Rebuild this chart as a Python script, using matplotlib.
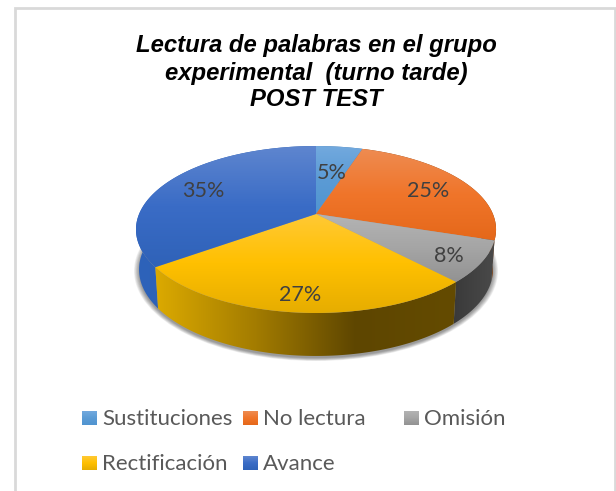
"""Lectura de palabras - perspective pie, post test"""
import numpy as np
from matplotlib import pyplot as plt
from matplotlib.colors import LinearSegmentedColormap
from matplotlib.patches import Ellipse, Polygon

categories = ["Sustituciones", "No lectura", "Omisión", "Rectificación", "Avance"]
values = [5, 25, 8, 27, 35]
title_lines = ["Lectura de palabras en el grupo", "experimental  (turno tarde)", "POST TEST"]

# light to dark, top of each slice to bottom
top_colors = [
    ["#72a9de", "#5b9bd5", "#5094d0"],
    ["#ee8c52", "#f0752a", "#e5681a"],
    ["#b4b4b4", "#a5a5a5", "#929292"],
    ["#ffc935", "#ffc000", "#e6ad00"],
    ["#5f86cf", "#3a6cc6", "#2f62b8"],
]
# left to right along the wall
wall_colors = [
    ["#4a7fb0", "#4a7fb0"],
    ["#8a4512", "#7a3d10"],
    ["#3a3a3a", "#4a4a4a"],
    ["#dcaa00", "#a37c00", "#5e4600", "#644b00"],
    ["#2e63ba", "#2a5cac"],
]

# pie geometry in image pixels
APEX_X, APEX_Y = 316, 214
SCALE_X, SCALE_Y, TILT = 176.9, 80.6, 0.1857
ELLIPSE_Y = 230
BOTTOM_Y, SHRINK_X, STRETCH_Y = 270, 0.983, 1.036

fig = plt.figure(figsize=(6.16, 4.91), dpi=100)
ax = fig.add_axes([0, 0, 1, 1])


def project(angle, radius=1.0):
    """Map a clockwise-from-top angle on the disc to image pixels"""
    a = np.radians(angle)
    x, y = radius * np.sin(a), radius * np.cos(a)
    w = 1 + TILT * y
    return APEX_X + SCALE_X * x / w, APEX_Y - SCALE_Y * y / w


def drop(x, y):
    """Move a point of the top rim to the bottom rim"""
    return APEX_X + (x - APEX_X) * SHRINK_X, BOTTOM_Y + (y - ELLIPSE_Y) * STRETCH_Y


def gradient_fill(points, colors, horizontal=False, zorder=2):
    xs, ys = points[:, 0], points[:, 1]
    cmap = LinearSegmentedColormap.from_list("g", colors)
    ramp = np.linspace(0, 1, 256)
    ramp = ramp[None, :] if horizontal else ramp[:, None]
    im = ax.imshow(ramp, cmap=cmap, aspect="auto", zorder=zorder, interpolation="bilinear",
                   extent=(xs.min(), xs.max(), ys.max(), ys.min()))
    patch = Polygon(points, closed=True, transform=ax.transData, fc="none", ec="none")
    ax.add_patch(patch)
    im.set_clip_path(patch)


# soft shadow under the pie
for grow in np.linspace(0, 5, 8):
    ax.add_patch(Ellipse((APEX_X, BOTTOM_Y + 1), 2 * (177 + grow), 2 * (87 + grow * 0.6),
                         fc="black", ec="none", alpha=0.06, zorder=1))

edges = np.cumsum([0] + values) / np.sum(values) * 360

# walls first, the top face covers whatever is behind
for i in [4, 0, 1, 2, 3]:
    angles = np.linspace(edges[i], edges[i + 1], 120)
    tx, ty = project(angles)
    bx, by = drop(tx, ty)
    pts = np.column_stack([np.r_[tx, bx[::-1]], np.r_[ty, by[::-1]]])
    gradient_fill(pts, wall_colors[i], horizontal=True, zorder=2)

# top face
for i in range(len(values)):
    angles = np.linspace(edges[i], edges[i + 1], 120)
    tx, ty = project(angles)
    pts = np.column_stack([np.r_[APEX_X, tx], np.r_[APEX_Y, ty]])
    gradient_fill(pts, top_colors[i], zorder=3)

# percent labels
label_radius = [0.62, 0.76, 0.82, 0.82, 0.76]
for i, v in enumerate(values):
    lx, ly = project((edges[i] + edges[i + 1]) / 2, label_radius[i])
    ax.text(lx, ly + 3, f"{v}%", ha="center", va="center", fontsize=15.5, family="Lato",
            color="#404040", zorder=5)

# title
for line, y in zip(title_lines, [45, 73, 99]):
    ax.text(316, y, line, ha="center", va="center", fontsize=17.2, family="Liberation Sans",
            style="italic", weight="bold", color="black", zorder=5)

# legend, columns are uneven in the original
legend_x = [82, 243, 404, 82, 243]
legend_y = [418, 418, 418, 463, 463]
for name, colors, x, y in zip(categories, top_colors, legend_x, legend_y):
    pts = np.array([[x, y - 7], [x + 15, y - 7], [x + 15, y + 7], [x, y + 7]])
    gradient_fill(pts, colors, zorder=3)
    ax.text(x + 20, y + 1, name, ha="left", va="center", fontsize=16, family="Lato",
            color="#595959", zorder=5)

# chart frame, cut off at the bottom
ax.plot([15, 15, 615, 615], [491, 8, 8, 491], color="#d9d9d9", lw=2, zorder=1,
        solid_joinstyle="miter")

ax.set_xlim(0, 616)
ax.set_ylim(491, 0)
ax.axis("off")
fig.savefig("out.png", dpi=100)
